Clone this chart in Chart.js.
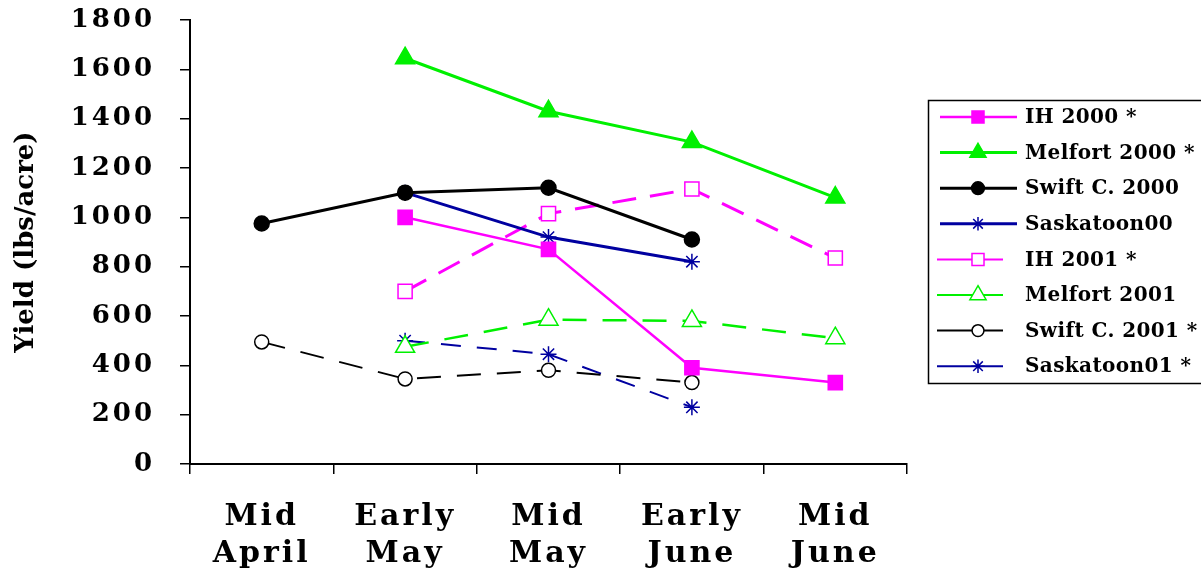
<!DOCTYPE html>
<html>
<head>
<meta charset="utf-8">
<script src="https://cdn.jsdelivr.net/npm/chart.js@4/dist/chart.umd.min.js"></script>
<style>
  html, body { margin: 0; padding: 0; background: #fff; }
  #chart { display: block; }
</style>
</head>
<body>
<canvas id="chart" width="1201" height="573"></canvas>
<script>
// categories (x axis)
const categories = [['Mid', 'April'], ['Early', 'May'], ['Mid', 'May'], ['Early', 'June'], ['Mid', 'June']];

// yields in lbs/acre, null = no sample
const ih2000 = [null, 1000, 870, 390, 330];
const melfort2000 = [null, 1645, 1430, 1305, 1080];
const swift2000 = [975, 1100, 1120, 910, null];
const saskatoon00 = [null, 1100, 920, 820, null];
const ih2001 = [null, 700, 1015, 1115, 835];
const melfort2001 = [null, 475, 585, 580, 510];
const swift2001 = [495, 345, 380, 330, null];
const saskatoon01 = [null, 500, 445, 230, null];

// y axis ticks
const yMin = 0;
const yMax = 1800;
const yStep = 200;

const MAGENTA = '#ff00ff';
const GREEN = '#00f000';
const BLACK = '#000000';
const NAVY = '#0000a0';
const FONT = "'DejaVu Serif', 'Liberation Serif', serif";

// 書式のそろった系列を作る
function series(label, data, color, opts) {
  return Object.assign({
    label: label,
    data: data,
    borderColor: color,
    backgroundColor: color,
    pointBorderColor: color,
    pointBackgroundColor: color,
    borderWidth: 3,
    pointBorderWidth: 1.5,
    borderDash: [],
    spanGaps: false,
    tension: 0
  }, opts);
}

const datasets = [
  series('IH 2000 *', ih2000, MAGENTA, { pointStyle: 'rect', pointRadius: 10, borderWidth: 2.5 }),
  series('Melfort 2000 *', melfort2000, GREEN, { pointStyle: 'triangle', pointRadius: 11 }),
  series('Swift C. 2000', swift2000, BLACK, { pointStyle: 'circle', pointRadius: 7.5 }),
  series('Saskatoon00', saskatoon00, NAVY, { pointStyle: 'star', pointRadius: 8, pointBorderWidth: 1.5 }),
  series('IH 2001 *', ih2001, MAGENTA, { pointStyle: 'rect', pointRadius: 10, pointBackgroundColor: '#fff', borderDash: [24, 14], borderWidth: 3 }),
  series('Melfort 2001', melfort2001, GREEN, { pointStyle: 'triangle', pointRadius: 11, pointBackgroundColor: '#fff', borderDash: [24, 16], borderWidth: 2.5 }),
  series('Swift C. 2001 *', swift2001, BLACK, { pointStyle: 'circle', pointRadius: 7, pointBackgroundColor: '#fff', borderDash: [24, 16], borderWidth: 2 }),
  series('Saskatoon01 *', saskatoon01, NAVY, { pointStyle: 'star', pointRadius: 8, borderDash: [20, 16], borderWidth: 2 })
];

// 目盛りラベルだけ字間を広げる（元の図は字間が広い）
function spacedLabels(scale) {
  if (scale._spaced) return;
  scale._spaced = true;
  const orig = scale.drawLabels;
  scale.drawLabels = function(area) {
    const c = this.ctx;
    c.save();
    c.letterSpacing = '3px';
    orig.call(this, area);
    c.restore();
  };
}

// 枠付きの凡例（右端は画面の外まで続く）
const boxLegend = {
  id: 'boxLegend',
  afterDraw(chart) {
    const ctx = chart.ctx;
    ctx.save();
    ctx.letterSpacing = '0.4px';
    ctx.strokeStyle = '#000';
    ctx.lineWidth = 1.5;
    ctx.setLineDash([]);
    ctx.strokeRect(928.5, 100.5, 300, 283);

    chart.data.datasets.forEach(function(ds, i) {
      const y = 117 + i * 35.6;
      const solid = i < 4;
      const x0 = solid ? 940 : 937;
      const x1 = solid ? 1017 : 1003;
      const mx = 978;

      ctx.setLineDash([]);
      ctx.strokeStyle = ds.borderColor;
      ctx.lineWidth = solid ? ds.borderWidth : 2;
      ctx.beginPath();
      ctx.moveTo(x0, y);
      ctx.lineTo(x1, y);
      ctx.stroke();

      ctx.fillStyle = ds.pointBackgroundColor;
      ctx.strokeStyle = ds.pointBorderColor;
      ctx.lineWidth = ds.pointBorderWidth;
      Chart.helpers.drawPoint(ctx, {
        pointStyle: ds.pointStyle,
        radius: ds.pointRadius * 0.85,
        rotation: 0,
        borderWidth: ds.pointBorderWidth
      }, mx, y);

      ctx.fillStyle = '#000';
      ctx.font = 'bold 20px ' + FONT;
      ctx.textAlign = 'left';
      ctx.textBaseline = 'middle';
      ctx.fillText(ds.label, 1025, y + 1);
    });
    ctx.restore();
  }
};

const ctx = document.getElementById('chart').getContext('2d');
new Chart(ctx, {
  type: 'line',
  data: {
    labels: categories,
    datasets: datasets
  },
  plugins: [boxLegend],
  options: {
    responsive: false,
    animation: false,
    layout: {
      padding: { left: 0, top: 20, right: 294, bottom: 0 }
    },
    plugins: {
      legend: { display: false },
      tooltip: { enabled: false }
    },
    scales: {
      x: {
        offset: true,
        afterFit: function(scale) {
          scale.height = 109;
          scale.paddingLeft = 0;
          scale.paddingRight = 0;
          spacedLabels(scale);
        },
        grid: {
          offset: true,
          drawOnChartArea: false,
          drawTicks: true,
          tickLength: 10,
          color: '#000',
          lineWidth: 1.5
        },
        border: { display: true, color: '#000', width: 2 },
        ticks: {
          color: '#000',
          autoSkip: false,
          maxRotation: 0,
          padding: 25,
          font: { family: FONT, size: 30, weight: 'bold', lineHeight: 1.22 }
        }
      },
      y: {
        min: yMin,
        max: yMax,
        afterFit: function(scale) {
          scale.width = 190;
          scale.paddingTop = 0;
          scale.paddingBottom = 0;
          spacedLabels(scale);
        },
        grid: {
          drawOnChartArea: false,
          drawTicks: true,
          tickLength: 10,
          color: '#000',
          lineWidth: 1.5
        },
        border: { display: true, color: '#000', width: 2 },
        ticks: {
          stepSize: yStep,
          color: '#000',
          padding: 25,
          font: { family: FONT, size: 26, weight: 'bold' },
          callback: function(value) { return String(value); }
        },
        title: {
          display: true,
          text: 'Yield (lbs/acre)',
          color: '#000',
          padding: { top: 11, bottom: 0 },
          font: { family: FONT, size: 26, weight: 'bold' }
        }
      }
    }
  }
});
</script>
</body>
</html>
